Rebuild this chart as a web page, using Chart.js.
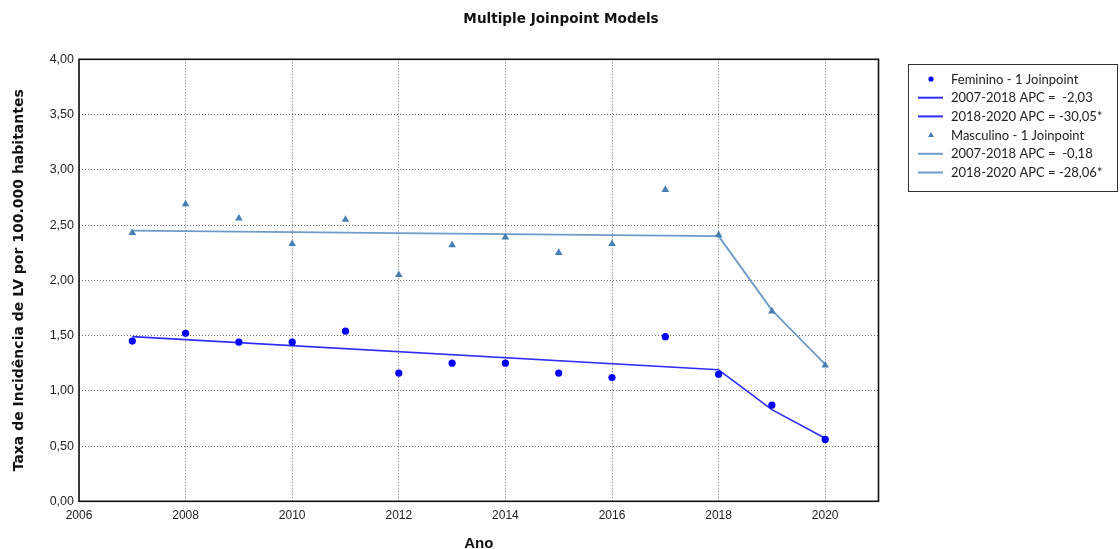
<!DOCTYPE html>
<html>
<head>
<meta charset="utf-8">
<title>Multiple Joinpoint Models</title>
<script src="https://cdn.jsdelivr.net/npm/chart.js@4/dist/chart.umd.min.js"></script>
<style>
  html, body { margin: 0; padding: 0; background: #ffffff; }
  #wrap { width: 1120px; height: 549px; }
</style>
</head>
<body>
<div id="wrap"><canvas id="chart" width="1120" height="549"></canvas></div>
<script>
// Observed rates per 100,000 inhabitants
const years = [2007, 2008, 2009, 2010, 2011, 2012, 2013, 2014, 2015, 2016, 2017, 2018, 2019, 2020];
const femininoObs  = [1.45, 1.52, 1.44, 1.44, 1.54, 1.16, 1.25, 1.25, 1.16, 1.12, 1.49, 1.15, 0.87, 0.56];
const masculinoObs = [2.43, 2.69, 2.56, 2.33, 2.55, 2.05, 2.32, 2.39, 2.25, 2.33, 2.82, 2.41, 1.72, 1.23];

// Joinpoint model segments
const seg1Years = [2007, 2018];
const seg2Years = [2018, 2019, 2020];
const femModelSeg1  = [1.49, 1.19];
const femModelSeg2  = [1.19, 0.83, 0.57];
const mascModelSeg1 = [2.45, 2.40];
const mascModelSeg2 = [2.40, 1.73, 1.24];

// Legend / axis text
const seriesLabels = [
  'Feminino - 1 Joinpoint',
  '2007-2018 APC =  -2,03',
  '2018-2020 APC = -30,05*',
  'Masculino - 1 Joinpoint',
  '2007-2018 APC =  -0,18',
  '2018-2020 APC = -28,06*'
];
const chartTitle = 'Multiple Joinpoint Models';
const xAxisTitle = 'Ano';
const yAxisTitle = 'Taxa de Incidência de LV por 100.000 habitantes';
const yTickLabels = ['0,00', '0,50', '1,00', '1,50', '2,00', '2,50', '3,00', '3,50', '4,00'];
const xTickLabels = ['2006', '2008', '2010', '2012', '2014', '2016', '2018', '2020'];

const FEM = 'rgb(0,0,255)';
const FEM_LINE = 'rgb(45,45,255)';
const MASC = 'rgb(70,128,178)';
const MASC_LINE = 'rgb(110,155,200)';

const pts = (xs, ys) => xs.map((x, i) => ({ x: x, y: ys[i] }));

const frame = {
  id: 'frame',
  beforeDatasetsDraw(chart) {
    const a = chart.chartArea, c = chart.ctx;
    c.save();
    c.strokeStyle = '#111';
    c.lineWidth = 1.6;
    c.strokeRect(a.left, a.top, a.right - a.left, a.bottom - a.top);
    c.restore();
  },
  afterDraw(chart) {
    const c = chart.ctx;
    c.save();
    // title
    c.fillStyle = '#111';
    c.font = 'bold 13.6px "DejaVu Sans"';
    c.textAlign = 'center';
    c.textBaseline = 'middle';
    c.fillText(chartTitle, 561, 19);

    // legend box
    const bx = 908.5, by = 64.5, bw = 209, bh = 127;
    c.fillStyle = '#fff';
    c.fillRect(bx, by, bw, bh);
    c.strokeStyle = '#333';
    c.lineWidth = 1;
    c.strokeRect(bx, by, bw, bh);
    c.font = '13px Lato';
    c.textAlign = 'left';
    chart.data.datasets.forEach((ds, i) => {
      const y = 79 + i * 18.7;
      if (ds.showLine === false) {
        c.fillStyle = ds.backgroundColor;
        c.beginPath();
        if (ds.pointStyle === 'triangle') {
          c.moveTo(931, y - 3);
          c.lineTo(934, y + 2);
          c.lineTo(928, y + 2);
          c.closePath();
        } else {
          c.arc(931, y, 2.6, 0, Math.PI * 2);
        }
        c.fill();
      } else {
        c.strokeStyle = ds.borderColor;
        c.lineWidth = 2;
        c.beginPath();
        c.moveTo(918, y);
        c.lineTo(943, y);
        c.stroke();
      }
      c.fillStyle = '#222';
      c.fillText(ds.label, 951, y + 0.5);
    });
    c.restore();
  }
};

new Chart(document.getElementById('chart'), {
  type: 'line',
  data: {
    datasets: [
      { label: seriesLabels[0], data: pts(years, femininoObs), showLine: false,
        pointStyle: 'circle', pointRadius: 3.6, pointBorderWidth: 0,
        backgroundColor: FEM, borderColor: FEM, order: 0 },
      { label: seriesLabels[1], data: pts(seg1Years, femModelSeg1), borderColor: FEM_LINE,
        borderWidth: 1.6, pointRadius: 0, order: 2 },
      { label: seriesLabels[2], data: pts(seg2Years, femModelSeg2), borderColor: FEM_LINE,
        borderWidth: 1.6, pointRadius: 0, order: 2 },
      { label: seriesLabels[3], data: pts(years, masculinoObs), showLine: false,
        pointStyle: 'triangle', pointRadius: 4.4, pointBorderWidth: 0,
        backgroundColor: MASC, borderColor: MASC, order: 0 },
      { label: seriesLabels[4], data: pts(seg1Years, mascModelSeg1), borderColor: MASC_LINE,
        borderWidth: 1.8, pointRadius: 0, order: 2 },
      { label: seriesLabels[5], data: pts(seg2Years, mascModelSeg2), borderColor: MASC_LINE,
        borderWidth: 1.8, pointRadius: 0, order: 2 }
    ]
  },
  options: {
    responsive: false,
    animation: false,
    layout: { padding: { left: 0, right: 241.5, top: 59.3, bottom: 0 } },
    plugins: {
      legend: { display: false },
      tooltip: { enabled: false },
      title: { display: false }
    },
    scales: {
      x: {
        type: 'linear',
        min: 2006, max: 2021,
        afterFit(s) { s.height = 47.7; },
        border: { display: false, dash: [1, 2] },
        grid: { color: '#6a6a6a', drawTicks: false, lineWidth: 1 },
        ticks: {
          stepSize: 2, includeBounds: false, padding: 7,
          color: '#222', font: { family: '"Liberation Sans"', size: 12 },
          callback: (v) => xTickLabels[xTickLabels.indexOf(String(v))] ?? ''
        },
        title: {
          display: true, text: xAxisTitle, color: '#111',
          font: { family: '"Liberation Sans"', size: 15, weight: 'bold', lineHeight: 1 },
          padding: { top: 0, bottom: -2.5 }
        }
      },
      y: {
        min: 0, max: 4,
        afterFit(s) { s.width = 79; },
        border: { display: false, dash: [1, 2] },
        grid: { color: '#6a6a6a', drawTicks: false, lineWidth: 1 },
        ticks: {
          stepSize: 0.5, padding: 5,
          color: '#222', font: { family: '"Liberation Sans"', size: 12.5 },
          callback: (v) => yTickLabels[Math.round(v * 2)]
        },
        title: {
          display: true, text: yAxisTitle, color: '#111',
          font: { family: '"DejaVu Sans"', size: 14, weight: 'bold', lineHeight: 1.2 },
          padding: { top: 11, bottom: 0 }
        }
      }
    }
  },
  plugins: [frame]
});
</script>
</body>
</html>
